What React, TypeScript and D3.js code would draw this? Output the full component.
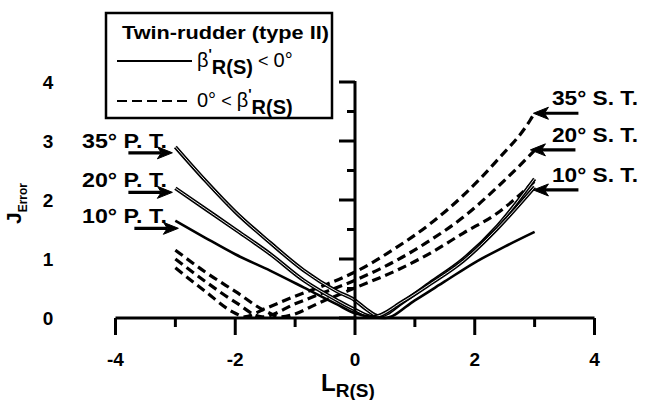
import React from "react";
import * as d3 from "d3";

// ---- data (x = L_R(S), y = J_Error) ----
const solid35X = [-3, -2.5, -2, -1.41, -0.86, -0.3, 0, 0.2, 0.4, 0.8, 1.26, 1.81, 2.38, 3];
const solid35Y = [2.9, 2.33, 1.8, 1.27, 0.81, 0.45, 0.3, 0.14, 0.03, 0.27, 0.6, 1.0, 1.56, 2.36];
const solid20X = [-3, -2.5, -2, -1.41, -0.86, -0.3, 0, 0.3, 0.8, 1.26, 1.81, 2.38, 3];
const solid20Y = [2.2, 1.85, 1.5, 1.08, 0.64, 0.3, 0.14, 0.02, 0.28, 0.58, 0.97, 1.52, 2.22];
const solid10X = [-3, -2.5, -2, -1.41, -0.86, -0.3, 0, 0.5, 1, 1.5, 2, 2.5, 3];
const solid10Y = [1.65, 1.36, 1.08, 0.8, 0.52, 0.23, 0.08, 0.0, 0.3, 0.62, 0.94, 1.21, 1.46];

const dash35X = [-3, -2.5, -2, -1.85, -1.5, -1, -0.5, 0, 0.7, 1.26, 1.81, 2.38, 2.93, 3];
const dash35Y = [0.85, 0.45, 0.08, 0.02, 0.16, 0.37, 0.56, 0.78, 1.2, 1.6, 2.08, 2.68, 3.36, 3.48];
const dash20X = [-3, -2.5, -2, -1.55, -1, -0.5, 0, 0.7, 1.26, 1.81, 2.38, 3];
const dash20Y = [1.0, 0.62, 0.27, 0.02, 0.24, 0.44, 0.64, 0.98, 1.32, 1.71, 2.22, 2.84];
const dash10X = [-3, -2.5, -2, -1.5, -1.25, -0.5, 0, 0.7, 1.26, 1.81, 2.38, 2.71, 3];
const dash10Y = [1.15, 0.78, 0.45, 0.12, 0.02, 0.3, 0.51, 0.81, 1.1, 1.44, 1.78, 2.05, 2.32];

const xTicksMajor = [-4, -2, 0, 2, 4];
const xTicksMinor = [-3, -1, 1, 3];
const yTicksMajor = [0, 1, 2, 3, 4];
const yTicksMinor = [0.5, 1.5, 2.5, 3.5];

const portLabels = ["35° P. T.", "20° P. T.", "10° P. T."];
const portTipX = [-3.05, -3.05, -2.95];
const portTipY = [2.8, 2.13, 1.52];
const stbdLabels = ["35° S. T.", "20° S. T.", "10° S. T."];
const stbdTipX = [2.98, 2.93, 2.98];
const stbdTipY = [3.47, 2.85, 2.17];

const FONT = "'Liberation Sans', Arial, Helvetica, sans-serif";

export default function App() {
  const x = d3.scaleLinear().domain([-4, 4]).range([115.5, 594.5]);
  const y = d3.scaleLinear().domain([0, 4]).range([318, 82]);

  const line = d3
    .line<[number, number]>()
    .x((d) => x(d[0]))
    .y((d) => y(d[1]))
    .curve(d3.curveMonotoneX);

  const zipPts = (xs: number[], ys: number[]) => xs.map((v, i) => [v, ys[i]] as [number, number]);

  const solids = [
    { pts: zipPts(solid35X, solid35Y), hollow: true },
    { pts: zipPts(solid20X, solid20Y), hollow: true },
    { pts: zipPts(solid10X, solid10Y), hollow: false },
  ];
  const dashes = [zipPts(dash35X, dash35Y), zipPts(dash20X, dash20Y), zipPts(dash10X, dash10Y)];

  const arrow = (tx: number, ty: number, dir: number, len: number, key: string) => {
    const tailX = tx - dir * len;
    const headL = 15;
    const headW = 6;
    const bx = tx - dir * headL;
    const head = `M${tx},${ty} L${bx},${ty - headW} L${bx + dir * 4},${ty} L${bx},${ty + headW} Z`;
    return (
      <g key={key}>
        <line x1={tailX} y1={ty} x2={bx + dir * 4} y2={ty} stroke="#000" strokeWidth={3.2} />
        <path d={head} fill="#000" stroke="#000" strokeWidth={1} strokeLinejoin="miter" />
      </g>
    );
  };

  return (
    <svg
      width={647}
      height={400}
      style={{ position: "absolute", left: 0, top: 0, background: "#fff" }}
      fontFamily={FONT}
    >
      <rect x={0} y={0} width={647} height={400} fill="#fff" />

      {/* dashed curves */}
      {dashes.map((pts, i) => (
        <path
          key={"d" + i}
          d={line(pts) || ""}
          fill="none"
          stroke="#000"
          strokeWidth={3.2}
          strokeDasharray="9,5"
        />
      ))}

      {/* solid curves */}
      {solids.map((s, i) => (
        <g key={"s" + i}>
          <path d={line(s.pts) || ""} fill="none" stroke="#000" strokeWidth={s.hollow ? 3.8 : 2.6} />
          {s.hollow && <path d={line(s.pts) || ""} fill="none" stroke="#fff" strokeWidth={0.9} />}
        </g>
      ))}

      {/* x axis */}
      <line x1={x(-4)} y1={y(0)} x2={x(4)} y2={y(0)} stroke="#000" strokeWidth={3} />
      {xTicksMajor.map((t) => (
        <line key={"xM" + t} x1={x(t)} x2={x(t)} y1={y(0)} y2={y(0) + 17} stroke="#000" strokeWidth={3} />
      ))}
      {xTicksMinor.map((t) => (
        <line key={"xm" + t} x1={x(t)} x2={x(t)} y1={y(0)} y2={y(0) + 9} stroke="#000" strokeWidth={3} />
      ))}
      {xTicksMajor.map((t) => (
        <text
          key={"xl" + t}
          x={x(t)}
          y={y(0) + 48}
          textAnchor="middle"
          fontSize={19}
          fontWeight="bold"
        >
          {t < 0 ? "-" + Math.abs(t) : String(t)}
        </text>
      ))}

      {/* y axis */}
      <line x1={x(0)} y1={y(0)} x2={x(0)} y2={y(4) - 1} stroke="#000" strokeWidth={3} />
      {yTicksMajor.map((t) => (
        <line key={"yM" + t} x1={x(0) - 16} x2={x(0)} y1={y(t)} y2={y(t)} stroke="#000" strokeWidth={3} />
      ))}
      {yTicksMinor.map((t) => (
        <line key={"ym" + t} x1={x(0) - 8} x2={x(0)} y1={y(t)} y2={y(t)} stroke="#000" strokeWidth={3} />
      ))}
      {yTicksMajor.map((t) => (
        <text key={"yl" + t} x={48} y={y(t) + 7} textAnchor="middle" fontSize={19} fontWeight="bold">
          {String(t)}
        </text>
      ))}

      {/* axis titles */}
      <text x={321} y={391} fontSize={24} fontWeight="bold">
        L<tspan fontSize={19} dy={6}>R(S)</tspan>
      </text>
      <text transform="translate(21,224) rotate(-90)" fontSize={21} fontWeight="bold">
        J<tspan fontSize={12} dy={6}>Error</tspan>
      </text>

      {/* annotations - port */}
      {portLabels.map((lab, i) => (
        <g key={"p" + i}>
          <text
            x={82}
            y={y(portTipY[i]) - 5}
            fontSize={20}
            fontWeight="bold"
            textLength={85}
            lengthAdjust="spacingAndGlyphs"
          >
            {lab}
          </text>
          {arrow(x(portTipX[i]), y(portTipY[i]), 1, 44, "pa" + i)}
        </g>
      ))}
      {/* annotations - starboard */}
      {stbdLabels.map((lab, i) => (
        <g key={"st" + i}>
          <text
            x={552}
            y={y(stbdTipY[i]) - 8}
            fontSize={20}
            fontWeight="bold"
            textLength={86}
            lengthAdjust="spacingAndGlyphs"
          >
            {lab}
          </text>
          {arrow(x(stbdTipX[i]), y(stbdTipY[i]), -1, 45, "sa" + i)}
        </g>
      ))}

      {/* legend */}
      <rect x={106} y={13} width={226} height={105} fill="#fff" stroke="#000" strokeWidth={2.5} />
      <text
        x={122}
        y={39}
        fontSize={19}
        fontWeight="bold"
        textLength={207}
        lengthAdjust="spacingAndGlyphs"
      >
        Twin-rudder (type II)
      </text>
      <line x1={117} x2={192} y1={61} y2={61} stroke="#000" strokeWidth={2} />
      <text x={197} y={67} fontSize={20}>
        β<tspan dy={-8} fontSize={14} fontWeight="bold">'</tspan>
        <tspan dy={15} fontSize={20} fontWeight="bold">R(S)</tspan>
        <tspan dy={-7} fontSize={18}> {"<"} </tspan>
        <tspan fontSize={20}>0°</tspan>
      </text>
      <line x1={117} x2={192} y1={101} y2={101} stroke="#000" strokeWidth={2} strokeDasharray="10,5" />
      <text x={197} y={107} fontSize={20}>
        0°<tspan fontSize={18}> {"<"} </tspan>β
        <tspan dy={-8} fontSize={14} fontWeight="bold">'</tspan>
        <tspan dy={15} fontSize={20} fontWeight="bold">R(S)</tspan>
      </text>
    </svg>
  );
}
